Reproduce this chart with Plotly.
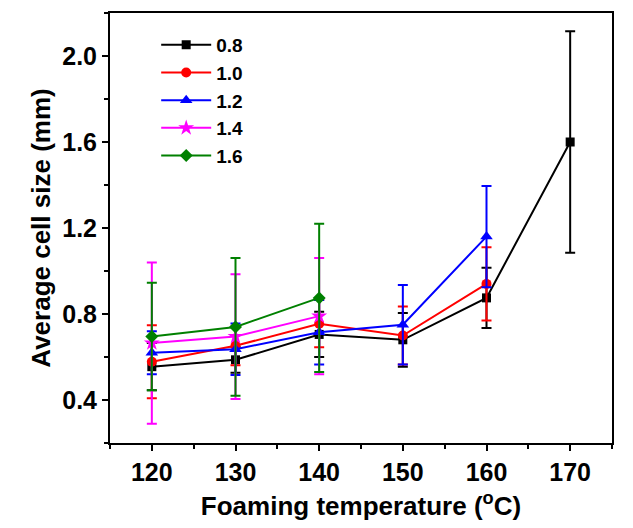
import plotly.graph_objects as go

temps = [120, 130, 140, 150, 160, 170]

series_names = ["0.8", "1.0", "1.2", "1.4", "1.6"]
y_08 = [0.555, 0.587, 0.705, 0.680, 0.875, 1.600]
e_08 = [0.110, 0.060, 0.105, 0.125, 0.140, 0.515]
y_10 = [0.578, 0.652, 0.755, 0.700, 0.940]
e_10 = [0.170, 0.090, 0.110, 0.135, 0.170]
y_12 = [0.620, 0.636, 0.715, 0.750, 1.160]
e_12 = [0.100, 0.120, 0.150, 0.185, 0.235]
y_14 = [0.665, 0.695, 0.790]
e_14 = [0.375, 0.290, 0.270]
y_16 = [0.695, 0.740, 0.875]
e_16 = [0.250, 0.320, 0.345]

values = [y_08, y_10, y_12, y_14, y_16]
errors = [e_08, e_10, e_12, e_14, e_16]
colors = ["#000000", "#ff0000", "#0000ff", "#ff00ff", "#008000"]
symbols = ["square", "circle", "triangle-up", "star", "diamond"]
sizes = [9, 10, 11, 12, 10]

FONT = "Liberation Sans, Arial, sans-serif"

fig = go.Figure()
for name, yv, ev, c, s, sz in zip(series_names, values, errors, colors, symbols, sizes):
    fig.add_trace(go.Scatter(
        x=temps[:len(yv)], y=yv, name=name, mode="lines+markers",
        line=dict(color=c, width=2),
        marker=dict(symbol=s, size=sz, color=c),
        error_y=dict(type="data", array=ev, visible=True, color=c,
                     thickness=2, width=5),
    ))

axis_common = dict(
    showline=True, linecolor="black", linewidth=2, mirror=True,
    ticks="outside", ticklen=6, tickwidth=2, tickcolor="black",
    showgrid=False, zeroline=False,
    tickfont=dict(family=FONT, size=25, color="black", weight="bold"),
)

fig.update_layout(
    width=633, height=528,
    margin=dict(l=110, r=21, t=11, b=85),
    paper_bgcolor="white", plot_bgcolor="white",
    showlegend=True,
    legend=dict(x=0.092, y=0.970, xanchor="left", yanchor="top",
                bgcolor="rgba(0,0,0,0)", borderwidth=0,
                itemwidth=50,
                font=dict(family=FONT, size=19, color="black", weight="bold"),
                tracegroupgap=0),
    xaxis=dict(range=[115, 175], tick0=120, dtick=10,
               minor=dict(ticks="outside", ticklen=4, tickwidth=2, dtick=5, tick0=115, tickcolor="black"),
               title=dict(text="Foaming temperature (<sup>o</sup>C)", standoff=12,
                          font=dict(family=FONT, size=26, color="black", weight="bold")),
               **axis_common),
    yaxis=dict(range=[0.2, 2.2], tick0=0.4, dtick=0.4, tickformat=".1f",
               minor=dict(ticks="outside", ticklen=4, tickwidth=2, dtick=0.2, tick0=0.2, tickcolor="black"),
               title=dict(text="Average cell size (mm)", standoff=4,
                          font=dict(family=FONT, size=26, color="black", weight="bold")),
               **axis_common),
)

fig.write_html("out.html")
